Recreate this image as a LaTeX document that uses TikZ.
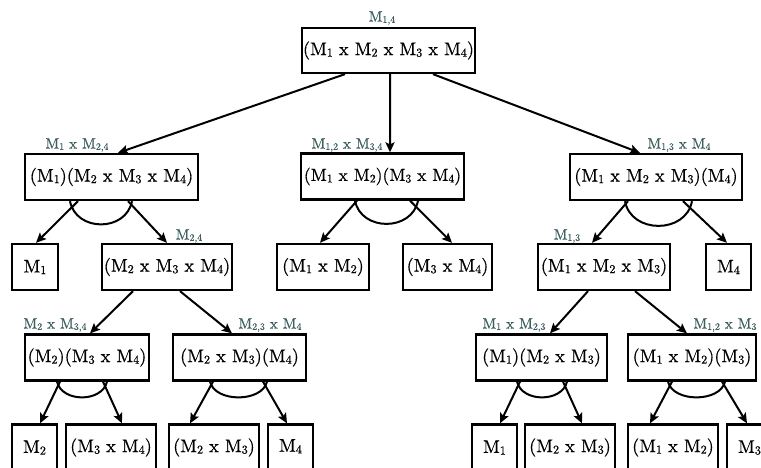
\documentclass[tikz,border=0pt]{standalone}
\usepackage{graphicx}
\usepackage{fontspec}
\newfontfamily\heavyfont{lmroman10-regular}[Extension=.otf, FakeBold=0.5]
\usetikzlibrary{arrows.meta}
\definecolor{lblc}{RGB}{60,95,95}
\newcommand\sbs[1]{\raisebox{-0.2ex}{\scalebox{0.66}{#1}}}
\tikzset{
  bx/.style={draw, line width=2.3bp, inner sep=0pt, minimum height=46bp,
    font=\heavyfont\fontsize{18.3bp}{21bp}\selectfont},
  bxs/.style={bx, font=\heavyfont\fontsize{17.6bp}{21bp}\selectfont},
  lbl/.style={text=lblc, inner sep=0pt, font=\heavyfont\fontsize{15bp}{17bp}\selectfont},
  arr/.style={line width=2bp, -{Stealth[length=10bp,width=9bp,inset=2bp]}},
  andarc/.style={line width=2bp},
}
\begin{document}
\begin{tikzpicture}[x=1bp,y=-1bp]
\useasboundingbox (0,0) rectangle (761,468);
\clip (0,0) rectangle (761,468);
% level 0
\node[bx, minimum width=173bp, minimum height=45bp] (T) at (388.5,50.5) {(M\sbs1 x M\sbs2 x M\sbs3 x M\sbs4)};
% level 1
\node[bx, minimum width=173bp] (A) at (111.5,177) {(M\sbs1)(M\sbs2 x M\sbs3 x M\sbs4)};
\node[bxs, minimum width=163bp] (B) at (382.5,176.5) {(M\sbs1 x M\sbs2)(M\sbs3 x M\sbs4)};
\node[bx, minimum width=172bp] (C) at (656,177) {(M\sbs1 x M\sbs2 x M\sbs3)(M\sbs4)};
% level 2
\node[bx, minimum width=46bp] (A1) at (35,267) {M\sbs1};
\node[bx, minimum width=130bp] (D) at (167,267) {(M\sbs2 x M\sbs3 x M\sbs4)};
\node[bx, minimum width=92bp] (B1) at (323,267) {(M\sbs1 x M\sbs2)};
\node[bx, minimum width=89bp] (B2) at (447.5,267) {(M\sbs3 x M\sbs4)};
\node[bx, minimum width=132bp] (E) at (604,267) {(M\sbs1 x M\sbs2 x M\sbs3)};
\node[bx, minimum width=45bp] (C2) at (728.5,267) {M\sbs4};
% level 3
\node[bx, minimum width=124bp] (F) at (87,357.5) {(M\sbs2)(M\sbs3 x M\sbs4)};
\node[bx, minimum width=133bp] (G) at (239.5,357.5) {(M\sbs2 x M\sbs3)(M\sbs4)};
\node[bx, minimum width=131bp] (H) at (541.5,357.5) {(M\sbs1)(M\sbs2 x M\sbs3)};
\node[bx, minimum width=128bp] (I) at (692,357.5) {(M\sbs1 x M\sbs2)(M\sbs3)};
% level 4
\node[bx, minimum width=45bp] (F1) at (34.5,447.5) {M\sbs2};
\node[bx, minimum width=90bp] (F2) at (111,447.5) {(M\sbs3 x M\sbs4)};
\node[bx, minimum width=90bp] (G1) at (214,447.5) {(M\sbs2 x M\sbs3)};
\node[bx, minimum width=45bp] (G2) at (290.5,447.5) {\raisebox{4bp}{M\sbs4}};
\node[bx, minimum width=45bp] (H1) at (494.5,447.5) {M\sbs1};
\node[bx, minimum width=90bp] (H2) at (570,447.5) {(M\sbs2 x M\sbs3)};
\node[bx, minimum width=90bp] (I1) at (673,447.5) {(M\sbs1 x M\sbs2)};
\node[bx, minimum width=45bp] (I2) at (749.5,447.5) {M\sbs3};
% labels
\node[lbl] (lT) at (382,18) {M\sbs{1,4}};
\node[lbl] (lA) at (77,145) {M\sbs1 x M\sbs{2,4}};
\node[lbl] (lB) at (347,145) {M\sbs{1,2} x M\sbs{3,4}};
\node[lbl] (lC) at (679,145) {M\sbs{1,3} x M\sbs4};
\node[lbl] (lD) at (189,236) {M\sbs{2,4}};
\node[lbl] (lE) at (567,236) {M\sbs{1,3}};
\node[lbl] (lF) at (55,325) {M\sbs2 x M\sbs{3,4}};
\node[lbl] (lG) at (270,325) {M\sbs{2,3} x M\sbs4};
\node[lbl] (lH) at (514,325) {M\sbs1 x M\sbs{2,3}};
\node[lbl] (lI) at (725,325) {M\sbs{1,2} x M\sbs3};
% connectors level 0 -> 1
\draw[arr] ([xshift=-43.5bp]T.south) -- ([xshift=6.5bp]A.north);
\draw[arr] ([xshift=1.5bp]T.south) -- ([xshift=7.5bp]B.north);
\draw[arr] ([xshift=44.5bp]T.south) -- ([xshift=-16bp]C.north);
% A
\draw[arr] ([xshift=-33.5bp]A.south) -- ([xshift=1bp]A1.north);
\draw[arr] ([xshift=16.5bp]A.south) -- (D.north);
\draw[andarc] ([xshift=-41.5bp]A.south) .. controls +(6,31) and +(-6,31) .. ([xshift=20.5bp]A.south);
% B
\draw[arr] ([xshift=-25.5bp]B.south) -- ([xshift=-3bp]B1.north);
\draw[arr] ([xshift=27.5bp]B.south) -- ([xshift=4.5bp]B2.north);
\draw[andarc] ([xshift=-27.5bp]B.south) .. controls +(6,31) and +(-6,31) .. ([xshift=35.5bp]B.south);
% C
\draw[arr] ([xshift=-28bp]C.south) -- ([xshift=-12bp]E.north);
\draw[arr] ([xshift=27bp]C.south) -- ([xshift=-1.5bp]C2.north);
\draw[andarc] ([xshift=-31bp]C.south) .. controls +(6,33) and +(-6,33) .. ([xshift=36bp]C.south);
% D
\draw[arr] ([xshift=-34bp]D.south) -- ([xshift=3bp]F.north);
\draw[arr] ([xshift=13bp]D.south) -- ([xshift=-7.5bp]G.north);
% E
\draw[arr] ([xshift=-16bp]E.south) -- ([xshift=8.5bp]H.north);
\draw[arr] ([xshift=31bp]E.south) -- ([xshift=-5bp]I.north);
% F
\draw[arr] ([xshift=-27bp]F.south) -- ([xshift=5.5bp]F1.north);
\draw[arr] ([xshift=16bp]F.south) -- ([xshift=11bp]F2.north);
\draw[andarc] ([xshift=-30bp]F.south) .. controls +(5,21) and +(-5,21) .. ([xshift=20bp]F.south);
% G
\draw[arr] ([xshift=-26.5bp]G.south) -- ([xshift=-24bp]G1.north);
\draw[arr] ([xshift=23.5bp]G.south) -- ([xshift=-3.5bp]G2.north);
\draw[andarc] ([xshift=-29.5bp]G.south) .. controls +(5,21) and +(-5,21) .. ([xshift=27.5bp]G.south);
% H
\draw[arr] ([xshift=-21.5bp]H.south) -- ([xshift=5.5bp]H1.north);
\draw[arr] ([xshift=21.5bp]H.south) -- ([xshift=12bp]H2.north);
\draw[andarc] ([xshift=-24.5bp]H.south) .. controls +(5,21) and +(-5,21) .. ([xshift=25.5bp]H.south);
% I
\draw[arr] ([xshift=-20bp]I.south) -- ([xshift=-23bp]I1.north);
\draw[arr] ([xshift=30bp]I.south) -- ([xshift=-2.5bp]I2.north);
\draw[andarc] ([xshift=-24bp]I.south) .. controls +(5,21) and +(-5,21) .. ([xshift=33bp]I.south);
\end{tikzpicture}
\end{document}
